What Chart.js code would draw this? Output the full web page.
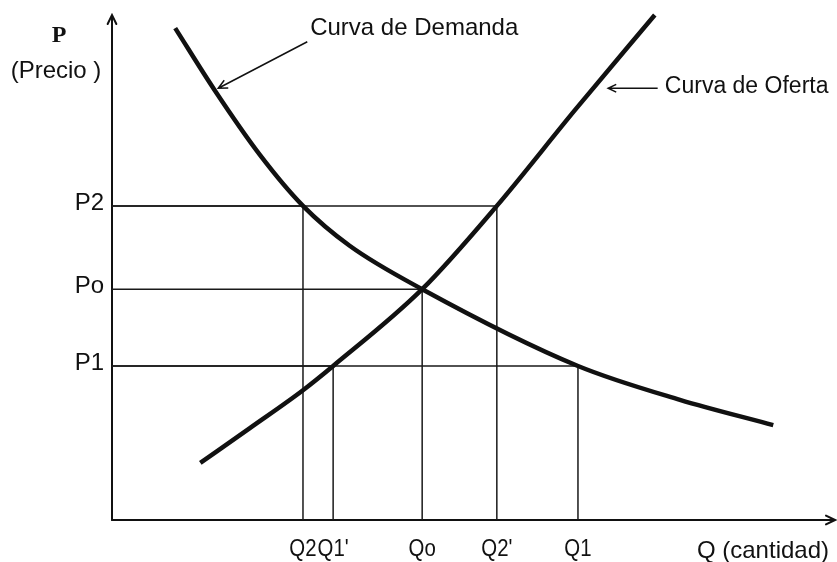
<!DOCTYPE html>
<html>
<head>
<meta charset="utf-8">
<script src="https://cdn.jsdelivr.net/npm/chart.js@4/dist/chart.umd.min.js"></script>
<style>
html, body { margin: 0; padding: 0; background: #fff; }
#wrap { width: 837px; height: 562px; }
</style>
</head>
<body>
<div id="wrap"><canvas id="chart" width="837" height="562"></canvas></div>
<script>
// cantidades marcadas en el eje Q
const qLabels = ['Q2', "Q1'", 'Qo', "Q2'", 'Q1'];
const qValues = [2.66, 3.08, 4.32, 5.36, 6.49];

// precios marcados en el eje P
const pLabels = ['P2', 'Po', 'P1'];
const pValues = [6.22, 4.57, 3.05];

// curva de demanda (Q, P)
const demandaQ = [0.88, 1.43, 2.06, 2.66, 3.31, 4.32, 6.49, 7.91, 9.21];
const demandaP = [9.74, 8.51, 7.23, 6.22, 5.43, 4.57, 3.05, 2.38, 1.88];

// curva de oferta (Q, P)
const ofertaQ = [1.23, 1.92, 2.66, 3.08, 4.32, 5.36, 6.45, 7.56];
const ofertaP = [1.13, 1.82, 2.57, 3.05, 4.57, 6.22, 8.12, 10.0];

// lineas guia: [indice de Q, indice de P]
const guias = [[0, 0], [3, 0], [2, 1], [1, 2], [4, 2]];

const FONT = '"Liberation Sans", Arial, sans-serif';

function puntos(xs, ys) {
    return xs.map((x, i) => ({ x: x, y: ys[i] }));
}

// datasets de las lineas guia
const guiaSets = guias.map(([qi, pi]) => ({
    data: [
        { x: 0, y: pValues[pi] },
        { x: qValues[qi], y: pValues[pi] },
        { x: qValues[qi], y: 0 }
    ],
    showLine: true,
    borderColor: '#1a1a1a',
    borderWidth: 1.5,
    pointRadius: 0,
    tension: 0
}));

function curva(label, xs, ys) {
    return {
        label: label,
        data: puntos(xs, ys),
        showLine: true,
        borderColor: '#111',
        borderWidth: 4.5,
        pointRadius: 0,
        cubicInterpolationMode: 'monotone',
        clip: false
    };
}

function flecha(ctx, x1, y1, x2, y2, size) {
    const ang = Math.atan2(y2 - y1, x2 - x1);
    ctx.beginPath();
    ctx.moveTo(x1, y1);
    ctx.lineTo(x2, y2);
    ctx.moveTo(x2 - size * Math.cos(ang - 0.45), y2 - size * Math.sin(ang - 0.45));
    ctx.lineTo(x2, y2);
    ctx.lineTo(x2 - size * Math.cos(ang + 0.45), y2 - size * Math.sin(ang + 0.45));
    ctx.stroke();
}

// texto con estrechamiento horizontal opcional
function texto(ctx, t, x, y, sx) {
    ctx.save();
    ctx.translate(x, y);
    ctx.scale(sx || 1, 1);
    ctx.fillText(t, 0, 0);
    ctx.restore();
}

// ejes, etiquetas y anotaciones
const dibujoPlugin = {
    id: 'dibujo',
    beforeDatasetsDraw(chart) {
        const { ctx, chartArea: a } = chart;
        ctx.save();
        ctx.strokeStyle = '#111';
        ctx.lineWidth = 2;
        ctx.lineCap = 'round';
        // eje P
        flecha(ctx, a.left, a.bottom, a.left, a.top, 10);
        // eje Q
        flecha(ctx, a.left, a.bottom, a.right, a.bottom, 10);
        ctx.restore();
    },
    afterDraw(chart) {
        const { ctx, chartArea: a } = chart;
        const xs = chart.scales.x, ys = chart.scales.y;
        ctx.save();
        ctx.fillStyle = '#111';
        ctx.font = '24px ' + FONT;

        // etiquetas del eje Q
        ctx.textAlign = 'center';
        ctx.textBaseline = 'top';
        qLabels.forEach((t, i) => {
            texto(ctx, t, xs.getPixelForValue(qValues[i]), a.bottom + 17, 0.85);
        });
        ctx.textAlign = 'right';
        texto(ctx, 'Q (cantidad)', a.right - 6, a.bottom + 19);

        // etiquetas del eje P
        ctx.textAlign = 'right';
        ctx.textBaseline = 'middle';
        pLabels.forEach((t, i) => {
            texto(ctx, t, a.left - 8, ys.getPixelForValue(pValues[i]) - 3);
        });

        // titulo del eje P
        ctx.textAlign = 'center';
        ctx.font = 'bold 24px "Liberation Serif", serif';
        texto(ctx, 'P', 59, 36);
        ctx.font = '24px ' + FONT;
        texto(ctx, '(Precio )', 56, 71);

        // anotaciones de las curvas
        ctx.textAlign = 'left';
        ctx.textBaseline = 'alphabetic';
        texto(ctx, 'Curva de Demanda', xs.getPixelForValue(2.76), ys.getPixelForValue(9.6));
        ctx.font = '23px ' + FONT;
        texto(ctx, 'Curva de Oferta', xs.getPixelForValue(7.70), ys.getPixelForValue(8.46));

        ctx.strokeStyle = '#111';
        ctx.lineWidth = 1.5;
        flecha(ctx, xs.getPixelForValue(2.72), ys.getPixelForValue(9.47),
            xs.getPixelForValue(1.48), ys.getPixelForValue(8.55), 10);
        flecha(ctx, xs.getPixelForValue(7.60), ys.getPixelForValue(8.55),
            xs.getPixelForValue(6.91), ys.getPixelForValue(8.55), 9);
        ctx.restore();
    }
};

new Chart(document.getElementById('chart'), {
    type: 'scatter',
    data: {
        datasets: [
            curva('Curva de Demanda', demandaQ, demandaP),
            curva('Curva de Oferta', ofertaQ, ofertaP),
            ...guiaSets
        ]
    },
    options: {
        responsive: false,
        animation: false,
        layout: { padding: { left: 112, right: 2, top: 15, bottom: 42 } },
        plugins: {
            legend: { display: false },
            tooltip: { enabled: false }
        },
        scales: {
            x: { type: 'linear', min: 0, max: 10.07, display: false },
            y: { type: 'linear', min: 0, max: 10, display: false }
        }
    },
    plugins: [dibujoPlugin]
});
</script>
</body>
</html>
